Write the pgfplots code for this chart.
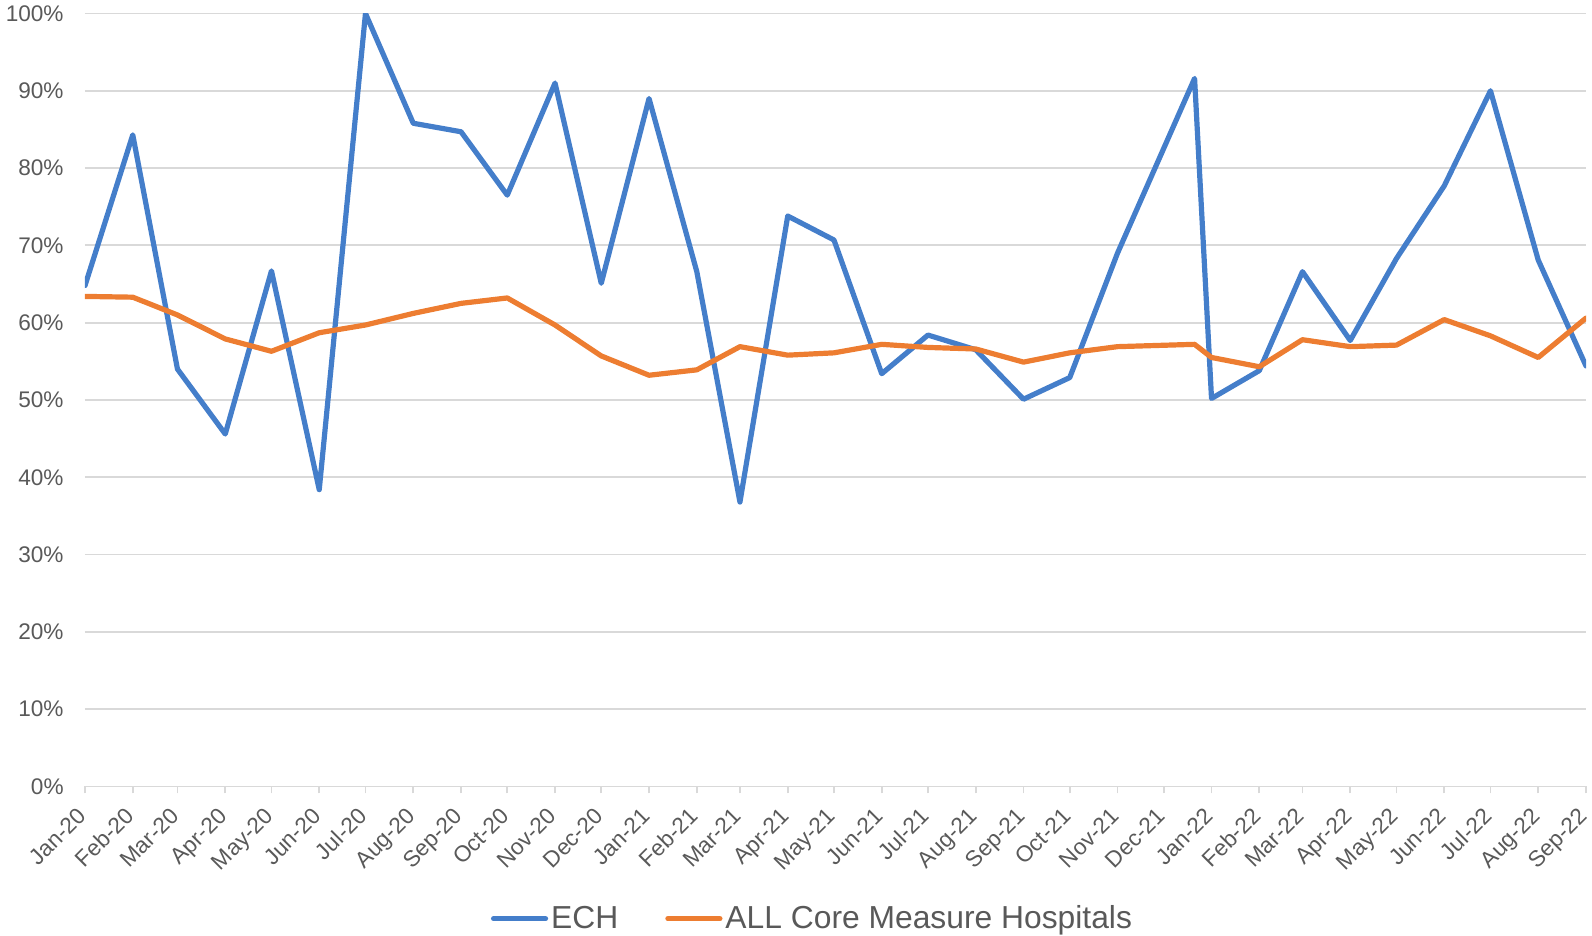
\documentclass[border=0pt]{standalone}
\usepackage{pgfplots}
\pgfplotsset{compat=1.18}
\usepackage{fontspec}
\setmainfont{Liberation Sans}
\definecolor{txtgray}{RGB}{89,89,89}
\definecolor{gridgray}{RGB}{217,217,217}
\definecolor{echblue}{RGB}{68,126,202}
\definecolor{allorange}{RGB}{237,125,49}
\begin{document}
\begin{tikzpicture}
\path[use as bounding box] (-42.5pt,-74.75pt) rectangle (753.5pt,393.25pt);
\begin{axis}[
  at={(0pt,0pt)}, anchor=south west,
  scale only axis,
  width=750.5pt, height=386.5pt,
  xmin=0, xmax=974, ymin=0, ymax=100,
  xtick={0,31,60,91,121,152,182,213,244,274,305,335,366,397,425,456,486,517,547,578,609,639,670,700,731,762,790,821,851,882,912,943,974},
  xticklabels={Jan-20,Feb-20,Mar-20,Apr-20,May-20,Jun-20,Jul-20,Aug-20,Sep-20,Oct-20,Nov-20,Dec-20,Jan-21,Feb-21,Mar-21,Apr-21,May-21,Jun-21,Jul-21,Aug-21,Sep-21,Oct-21,Nov-21,Dec-21,Jan-22,Feb-22,Mar-22,Apr-22,May-22,Jun-22,Jul-22,Aug-22,Sep-22},
  ytick={0,10,...,100},
  yticklabel={\pgfmathprintnumber{\tick}\%},
  ymajorgrids,
  grid style={gridgray, line width=0.9pt},
  separate axis lines,
  x axis line style={gridgray, line width=0.9pt},
  y axis line style={draw=none},
  xtick pos=bottom, ytick pos=left,
  tick align=outside,
  major tick length=3.5pt,
  xtick style={gridgray, line width=0.9pt},
  ytick style={draw=none},
  tick label style={font=\fontsize{11.3}{13}\selectfont, text=txtgray},
  /pgf/number format/assume math mode=true,
  yticklabel style={anchor=east, inner sep=0pt, xshift=-7pt},
  xticklabel style={xshift=1.5pt, yshift=-12pt, rotate=45, anchor=base east, inner sep=0pt},
  legend columns=2,
  legend style={at={(0.485,-0.171)}, anchor=center, draw=none, fill=none,
    font=\fontsize{15.9}{18}\selectfont, text=txtgray,
    /tikz/every even column/.append style={column sep=22pt},
    nodes={inner sep=1.5pt}},
  legend image code/.code={\draw[#1, line cap=round] (0pt,0pt) -- (26pt,0pt);},
  every axis plot/.append style={line width=2.6pt, line join=round, line cap=round, mark=none},
]
\addplot[echblue] coordinates {
(0,64.8) (31,84.3) (60,54.0) (91,45.6) (121,66.7) (152,38.4) (182,100) (213,85.8)
(244,84.7) (274,76.5) (305,91.0) (335,65.1) (366,89.0) (397,66.6) (425,36.8) (456,73.8)
(486,70.7) (517,53.4) (547,58.4) (578,56.5) (609,50.1) (639,52.9) (670,69.0) (720,91.6)
(731,50.2) (762,53.8) (790,66.6) (821,57.7) (851,68.3) (882,77.7) (912,90.0) (943,68.1)
(974,54.4)
};
\addlegendentry{ECH}
\addplot[allorange] coordinates {
(0,63.4) (31,63.3) (60,61.0) (91,57.9) (121,56.3) (152,58.7) (182,59.7) (213,61.2)
(244,62.5) (274,63.2) (305,59.7) (335,55.7) (366,53.2) (397,53.9) (425,56.9) (456,55.8)
(486,56.1) (517,57.2) (547,56.8) (578,56.6) (609,54.9) (639,56.1) (670,56.9) (720,57.2)
(731,55.5) (762,54.3) (790,57.8) (821,56.9) (851,57.1) (882,60.4) (912,58.3) (943,55.5)
(974,60.6)
};
\addlegendentry{ALL Core Measure Hospitals}
\end{axis}
\end{tikzpicture}
\end{document}
